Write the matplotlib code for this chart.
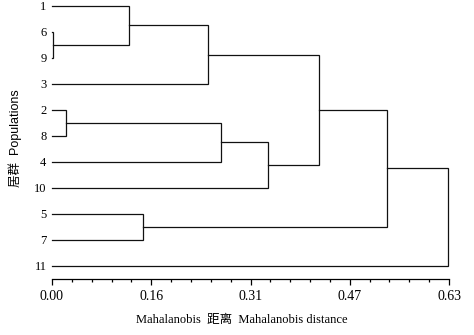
import matplotlib
matplotlib.use("Agg")
import matplotlib.pyplot as plt
import numpy as np

# leaf order as it appears top to bottom
leaves = ['1', '6', '9', '3', '2', '8', '4', '10', '5', '7', '11']

# linkage: children (leaf label or merge id) and distance
merge_left = ['6', '2', '1', '5', 'm2', 'm1', 'm5', 'm4', 'm7', 'm8']
merge_right = ['9', '8', 'm0', '7', '3', '4', '10', 'm6', 'm3', '11']
merge_height = [0.002, 0.022, 0.122, 0.145, 0.248, 0.268, 0.343, 0.424, 0.532, 0.629]

tick_vals = [0.0, 0.1575, 0.315, 0.4725, 0.63]
tick_labels = ['0.00', '0.16', '0.31', '0.47', '0.63']

plt.rcParams['font.family'] = ['Liberation Serif', 'Noto Sans CJK SC']

fig = plt.figure(figsize=(4.74, 3.35), dpi=100)
ax = fig.add_axes([52 / 474, (335 - 279) / 335, 397 / 474, 279 / 335])

# node positions: (row, distance)
nodes = {name: (i, 0.0) for i, name in enumerate(leaves)}
for k, (a, b, h) in enumerate(zip(merge_left, merge_right, merge_height)):
    ya, xa = nodes[a]
    yb, xb = nodes[b]
    ax.plot([xa, h, h, xb], [ya, ya, yb, yb], color='#111111', lw=0.9,
            solid_joinstyle='miter', clip_on=False)
    nodes['m%d' % k] = ((ya + yb) / 2, h)

ax.set_xlim(0, 0.63)
ax.set_ylim(10.5, -0.23)

ax.set_yticks(range(len(leaves)))
ax.set_yticklabels(leaves, fontsize=9)
ax.tick_params(axis='y', length=0, pad=4)

ax.set_xticks(tick_vals)
ax.set_xticklabels(tick_labels, fontsize=10)
ax.set_xticks(np.linspace(0, 0.63, 21), minor=True)
ax.tick_params(axis='x', which='major', length=4, width=0.9, pad=4)
ax.tick_params(axis='x', which='minor', length=2.5, width=0.9)

for s in ['top', 'right', 'left']:
    ax.spines[s].set_visible(False)
ax.spines['bottom'].set_linewidth(0.9)

fig.text(242 / 474, 1 - 320 / 335, 'Mahalanobis  距离  Mahalanobis distance',
         ha='center', va='center', fontsize=9)
fig.text(15 / 474, 1 - 138 / 335, '居群  Populations', rotation=90,
         ha='center', va='center', fontsize=9,
         family=['Liberation Sans', 'Noto Sans CJK SC'])

fig.savefig('out.png', dpi=100)
